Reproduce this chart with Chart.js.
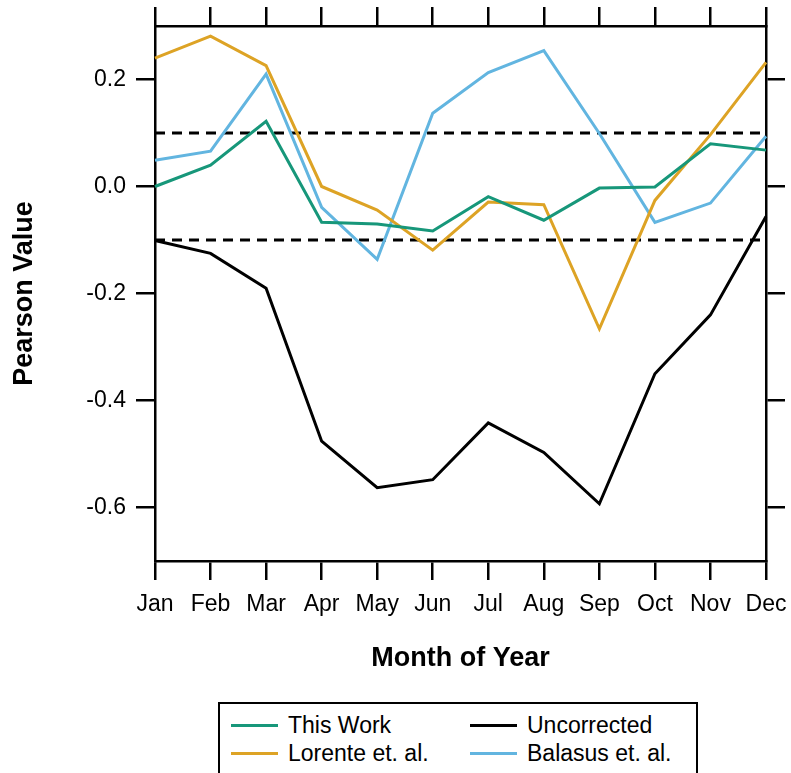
<!DOCTYPE html>
<html>
<head>
<meta charset="utf-8">
<script src="https://cdn.jsdelivr.net/npm/chart.js@4"></script>
<style>
  html, body { margin: 0; padding: 0; background: #fff; overflow: hidden; }
  #wrap { position: relative; width: 791px; height: 773px; }
  #legend {
    position: absolute; left: 218px; top: 702px; width: 480px; height: 90px;
    border: 2.5px solid #000; box-sizing: border-box; background: #fff;
    font-family: "Liberation Sans", Arial, sans-serif; font-size: 23px; color: #000;
  }
  .item { position: absolute; display: flex; align-items: center; height: 26px; white-space: nowrap; }
  .swatch { width: 47px; height: 3px; margin-right: 10px; }
</style>
</head>
<body>
<div id="wrap">
  <canvas id="chart" width="791" height="773"></canvas>
  <div id="legend"></div>
</div>
<script>
// Datos
const months = ["Jan", "Feb", "Mar", "Apr", "May", "Jun", "Jul", "Aug", "Sep", "Oct", "Nov", "Dec"];
const thisWork = [0.0, 0.04, 0.122, -0.067, -0.07, -0.083, -0.019, -0.063, -0.003, -0.001, 0.08, 0.068];
const lorente = [0.24, 0.281, 0.226, 0.0, -0.044, -0.119, -0.029, -0.034, -0.266, -0.026, 0.097, 0.232];
const uncorrected = [-0.101, -0.125, -0.19, -0.476, -0.563, -0.548, -0.442, -0.497, -0.593, -0.35, -0.24, -0.056];
const balasus = [0.049, 0.066, 0.21, -0.039, -0.136, 0.137, 0.213, 0.254, 0.099, -0.067, -0.031, 0.094];
const yTickValues = [-0.6, -0.4, -0.2, 0.0, 0.2];
const threshold = 0.1;

const FONT = '"Liberation Sans", Arial, sans-serif';

const series = [
  { label: "This Work", data: thisWork, color: "#17977a" },
  { label: "Uncorrected", data: uncorrected, color: "#000000" },
  { label: "Lorente et. al.", data: lorente, color: "#dda325" },
  { label: "Balasus et. al.", data: balasus, color: "#62b5e0" }
];

const datasets = series.map(s => ({
  label: s.label,
  data: s.data,
  borderColor: s.color,
  backgroundColor: s.color,
  borderWidth: 3,
  pointRadius: 0,
  tension: 0,
  fill: false
}));

// Líneas discontinuas en +/- umbral
[threshold, -threshold].forEach(v => {
  datasets.push({
    label: "band",
    data: months.map(() => v),
    borderColor: "#000",
    borderWidth: 3,
    borderDash: [10, 7],
    pointRadius: 0,
    fill: false
  });
});

const tickGrid = { drawOnChartArea: false, drawTicks: true, tickLength: 19, color: "#000", lineWidth: 2.5 };
const axisBorder = { display: true, color: "#000", width: 2.5 };

// Tamaños fijos de los ejes para que el área de trazado coincida
function fixSize(prop, size) {
  return s => {
    s[prop] = size;
    s.paddingLeft = 0; s.paddingRight = 0; s.paddingTop = 0; s.paddingBottom = 0;
  };
}

new Chart(document.getElementById("chart"), {
  type: "line",
  data: { labels: months, datasets: datasets },
  options: {
    responsive: false,
    animation: false,
    layout: { padding: { left: 0, right: 0, top: 0, bottom: 73 } },
    plugins: { legend: { display: false }, tooltip: { enabled: false } },
    scales: {
      x: {
        type: "category", position: "bottom", offset: false,
        grid: tickGrid, border: axisBorder,
        ticks: { color: "#000", font: { size: 23, family: FONT }, padding: 11, maxRotation: 0, autoSkip: false },
        title: { display: true, text: "Month of Year", color: "#000",
                 font: { size: 27, weight: "bold", family: FONT }, padding: { top: 0, bottom: 25 } },
        afterFit: fixSize("height", 139)
      },
      x2: {
        type: "category", position: "top", offset: false,
        grid: tickGrid, border: axisBorder,
        ticks: { display: false },
        afterFit: fixSize("height", 26)
      },
      y: {
        type: "linear", position: "left", min: -0.7, max: 0.3,
        grid: tickGrid, border: axisBorder,
        afterBuildTicks(s) { s.ticks = yTickValues.map(v => ({ value: v })); },
        ticks: { color: "#000", font: { size: 23, family: FONT }, padding: 10,
                 callback: v => Number(v).toFixed(1) },
        title: { display: true, text: "Pearson Value", color: "#000",
                 font: { size: 27, weight: "bold", family: FONT }, padding: { top: 8, bottom: 0 } },
        afterFit: fixSize("width", 155)
      },
      y2: {
        type: "linear", position: "right", min: -0.7, max: 0.3,
        grid: tickGrid, border: axisBorder,
        afterBuildTicks(s) { s.ticks = yTickValues.map(v => ({ value: v })); },
        ticks: { display: false },
        afterFit: fixSize("width", 25)
      }
    }
  }
});

// Leyenda en HTML
const legendDiv = document.getElementById("legend");
series.forEach((s, i) => {
  const item = document.createElement("div");
  item.className = "item";
  item.style.left = (i % 2 === 0 ? 11 : 250) + "px";
  item.style.top = (i < 2 ? 8 : 36) + "px";
  const sw = document.createElement("span");
  sw.className = "swatch";
  sw.style.background = s.color;
  const txt = document.createElement("span");
  txt.innerText = s.label;
  item.appendChild(sw);
  item.appendChild(txt);
  legendDiv.appendChild(item);
});
</script>
</body>
</html>
